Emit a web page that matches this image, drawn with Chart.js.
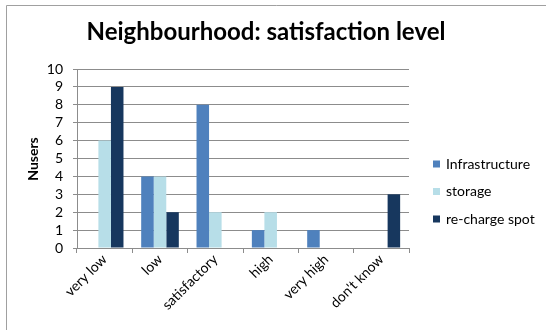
<!DOCTYPE html>
<html>
<head>
<meta charset="utf-8">
<script src="https://cdn.jsdelivr.net/npm/chart.js@4"></script>
<style>
  html, body { margin: 0; padding: 0; background: #ffffff; }
  #wrap { width: 546px; height: 330px; }
</style>
</head>
<body>
<div id="wrap"><canvas id="c" width="546" height="330"></canvas></div>
<script>
// Survey answers: number of users per satisfaction level
const categories = ["very low", "low", "satisfactory", "high", "very high", "don't know"];
const infrastructure = [0, 4, 8, 1, 1, 0];
const storage = [6, 4, 2, 2, 0, 0];
const rechargeSpot = [9, 2, 0, 0, 0, 3];
const seriesNames = ["Infrastructure", "storage", "re-charge spot"];
const yTicks = [0, 1, 2, 3, 4, 5, 6, 7, 8, 9, 10];
const chartTitle = "Neighbourhood: satisfaction level";
const yAxisTitle = "Nusers";

const FONT = "Lato, 'Open Sans', 'Liberation Sans', sans-serif";
const GRID = "#8c8c8c";

// Frame, title, y-axis title and legend are painted by this plugin
const decorations = {
  id: 'decorations',
  beforeDraw(chart) {
    const ctx = chart.ctx;
    ctx.save();
    ctx.fillStyle = '#ffffff';
    ctx.fillRect(0, 0, chart.width, chart.height);
    ctx.strokeStyle = '#a0a0a0';
    ctx.lineWidth = 1;
    ctx.beginPath();
    ctx.moveTo(6.5, chart.height);
    ctx.lineTo(6.5, 5.5);
    ctx.lineTo(chart.width, 5.5);
    ctx.stroke();
    ctx.restore();
  },
  afterDraw(chart) {
    const ctx = chart.ctx;
    ctx.save();
    // title, sized to its printed width
    let size = 22;
    ctx.font = `bold ${size}px ${FONT}`;
    const w = ctx.measureText(chartTitle).width;
    size = Math.max(18, Math.min(24, size * 361 / w));
    ctx.font = `bold ${size}px ${FONT}`;
    ctx.fillStyle = '#000';
    ctx.textAlign = 'center';
    ctx.textBaseline = 'alphabetic';
    ctx.fillText(chartTitle, 266, 40);

    // y-axis title
    ctx.save();
    ctx.translate(33, 159);
    ctx.rotate(-Math.PI / 2);
    ctx.font = `bold 14px ${FONT}`;
    ctx.textAlign = 'center';
    ctx.textBaseline = 'middle';
    ctx.fillText(yAxisTitle, 0, 0);
    ctx.restore();

    // legend
    ctx.font = `14px ${FONT}`;
    ctx.textAlign = 'left';
    ctx.textBaseline = 'middle';
    chart.data.datasets.forEach((ds, i) => {
      const y = 164 + i * 27.5;
      ctx.fillStyle = ds.backgroundColor;
      ctx.fillRect(433, y - 3.5, 7, 7);
      ctx.fillStyle = '#000';
      ctx.fillText(ds.label, 446, y);
    });
    ctx.restore();
  }
};

new Chart(document.getElementById('c'), {
  type: 'bar',
  data: {
    labels: categories,
    datasets: [
      { label: seriesNames[0], data: infrastructure, backgroundColor: '#4f81bd' },
      { label: seriesNames[1], data: storage, backgroundColor: '#b7dee8' },
      { label: seriesNames[2], data: rechargeSpot, backgroundColor: '#17375e' }
    ]
  },
  options: {
    responsive: false,
    devicePixelRatio: 1,
    animation: false,
    layout: { padding: { top: 69, right: 137, left: 0, bottom: 0 } },
    datasets: { bar: { categoryPercentage: 0.68, barPercentage: 1.0 } },
    plugins: {
      legend: { display: false },
      title: { display: false },
      tooltip: { enabled: false }
    },
    scales: {
      x: {
        afterFit(scale) { scale.height = 82; },
        grid: { offset: true, drawOnChartArea: false, drawTicks: true, tickLength: 5, color: GRID },
        border: { color: GRID },
        ticks: {
          maxRotation: 45, minRotation: 45, padding: -2, autoSkip: false,
          color: '#000', font: { family: FONT, size: 14 }
        }
      },
      y: {
        min: 0, max: 10,
        afterFit(scale) { scale.width = 77; },
        afterBuildTicks(scale) { scale.ticks = yTicks.map(v => ({ value: v })); },
        grid: { color: GRID, tickLength: 4 },
        border: { color: GRID },
        ticks: {
          stepSize: 1, padding: 10, autoSkip: false,
          color: '#000', font: { family: FONT, size: 14 }
        }
      }
    }
  },
  plugins: [decorations]
});
</script>
</body>
</html>
